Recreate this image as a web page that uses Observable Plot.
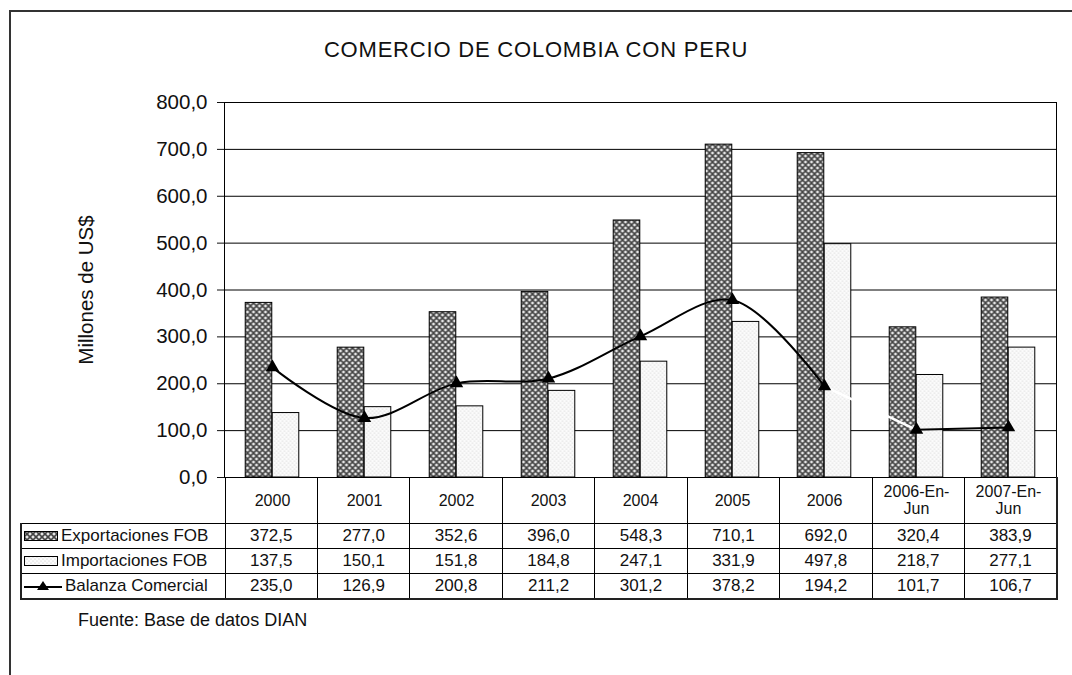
<!DOCTYPE html>
<html>
<head>
<meta charset="utf-8">
<script src="https://cdn.jsdelivr.net/npm/d3@7"></script>
<script src="https://cdn.jsdelivr.net/npm/@observablehq/plot@0.6"></script>
<style>
  body { margin: 0; background: #fff; font-family: "Liberation Sans", Arial, sans-serif; color: #111; }
  #wrap { position: relative; width: 1072px; height: 675px; overflow: hidden; }
  #frameBox { position: absolute; left: 9px; top: 10px; width: 1100px; height: 700px; border-top: 2px solid #333; border-left: 2px solid #333; }
  #title { position: absolute; left: 0; top: 39px; width: 1072px; text-align: center; font-size: 22px; line-height: 22px; letter-spacing: 0.8px; color: #111; }
  #chart { position: absolute; left: 0; top: 0; }
  #tbl { position: absolute; left: 20px; top: 477px; border-collapse: collapse; table-layout: fixed; font-size: 17px; color: #111; }
  #tbl td { border: 1px solid #000; padding: 0; text-align: center; height: 24px; line-height: 20px; white-space: nowrap; background: transparent; }
  #tbl tr.head td { height: 45px; }
  #tbl tr.head td.blank { border: none; }
  #tbl td.leg { text-align: left; padding-left: 2px; border-left: 2px solid #222; }
  #tbl td.last { border-right: 2px solid #222; }
  #tbl tr.bottom td { border-bottom: 2px solid #222; }
  .sw { vertical-align: middle; margin-right: 3px; position: relative; top: -1px; }
  #source { position: absolute; left: 78px; top: 610px; font-size: 18px; line-height: 20px; color: #111; }
</style>
</head>
<body>
<svg width="0" height="0" style="position:absolute">
  <defs>
    <pattern id="patExp" patternUnits="userSpaceOnUse" width="6" height="6">
      <rect width="6" height="6" fill="#7a7a7a"/>
      <path d="M0,0L6,6M6,0L0,6" stroke="#444" stroke-width="1"/>
      <circle cx="3" cy="0" r="1.1" fill="#fff"/>
      <circle cx="3" cy="6" r="1.1" fill="#fff"/>
      <circle cx="0" cy="3" r="1.1" fill="#fff"/>
      <circle cx="6" cy="3" r="1.1" fill="#fff"/>
    </pattern>
    <pattern id="patImp" patternUnits="userSpaceOnUse" width="4" height="4">
      <rect width="4" height="4" fill="#fbfbfb"/>
      <circle cx="1" cy="1" r="0.6" fill="#c4c4c4"/>
      <circle cx="3" cy="3" r="0.6" fill="#c4c4c4"/>
    </pattern>
  </defs>
</svg>
<div id="wrap">
  <div id="frameBox"></div>
  <div id="title">COMERCIO DE COLOMBIA CON PERU</div>
  <div id="chart"></div>
  <table id="tbl"></table>
  <div id="source">Fuente: Base de datos DIAN</div>
</div>
<script>
// ---- data ----
const categories = ["2000", "2001", "2002", "2003", "2004", "2005", "2006", "2006-En-Jun", "2007-En-Jun"];
const categoryLabels = ["2000", "2001", "2002", "2003", "2004", "2005", "2006", "2006-En-\nJun", "2007-En-\nJun"];
const exportaciones = [372.5, 277.0, 352.6, 396.0, 548.3, 710.1, 692.0, 320.4, 383.9];
const importaciones = [137.5, 150.1, 151.8, 184.8, 247.1, 331.9, 497.8, 218.7, 277.1];
const balanza = [235.0, 126.9, 200.8, 211.2, 301.2, 378.2, 194.2, 101.7, 106.7];
const seriesNames = ["Exportaciones FOB", "Importaciones FOB", "Balanza Comercial"];
const yTicks = [0, 100, 200, 300, 400, 500, 600, 700, 800];
const yLabel = "Millones de US$";

// ---- derived ----
const rows = categories.map((c, i) => ({cat: c, exp: exportaciones[i], imp: importaciones[i], bal: balanza[i]}));
const fmt = v => v.toFixed(1).replace(".", ",");
const W = 1072, H = 523, mL = 224, mR = 16, mT = 102, mB = 46;
const band = (W - mL - mR) / categories.length;
const barW = 27;
const inset = (band - barW) / 2;

const chart = Plot.plot({
  width: W, height: H,
  marginLeft: mL, marginRight: mR, marginTop: mT, marginBottom: mB,
  style: {background: "transparent", fontFamily: "Liberation Sans, Arial, sans-serif", color: "#111", overflow: "visible"},
  x: {domain: categories, padding: 0, label: null},
  y: {domain: [0, 800], label: null},
  marks: [
    Plot.gridY(yTicks, {stroke: "#000", strokeOpacity: 1, strokeWidth: 1}),
    Plot.barY(rows, {x: "cat", y: "exp", fill: "url(#patExp)", stroke: "#000", strokeWidth: 1, insetLeft: inset, insetRight: inset, dx: -barW / 2}),
    Plot.barY(rows, {x: "cat", y: "imp", fill: "url(#patImp)", stroke: "#000", strokeWidth: 1, insetLeft: inset, insetRight: inset, dx: barW / 2}),
    Plot.line(rows.slice(6, 8), {x: "cat", y: "bal", stroke: "#fff", strokeWidth: 2.5}),
    Plot.line(rows.slice(0, 7), {x: "cat", y: "bal", stroke: "#000", strokeWidth: 2, curve: "catmull-rom"}),
    Plot.line(rows.slice(7), {x: "cat", y: "bal", stroke: "#000", strokeWidth: 2, curve: "catmull-rom"}),
    Plot.dot(rows, {x: "cat", y: "bal", symbol: "triangle", r: 5, fill: "#000"}),
    Plot.frame({stroke: "#000"}),
    Plot.axisY(yTicks, {tickFormat: fmt, tickSize: 7, tickPadding: 10, fontSize: 20.5, label: yLabel, labelAnchor: "center", labelOffset: 146, labelArrow: false}),
    Plot.axisX({label: null, tickSize: 0, tickPadding: 23, lineAnchor: "middle", lineHeight: 1.05, fontSize: 16, tickFormat: d => categoryLabels[categories.indexOf(d)]})
  ]
});
document.getElementById("chart").appendChild(chart);

// ---- data table ----
const tbl = document.getElementById("tbl");
let html = `<colgroup><col style="width:${mL - 20}px">` + categories.map(() => `<col style="width:${band}px">`).join("") + `</colgroup>`;
html += `<tr class="head"><td class="blank"></td>` + categories.map((c, i) => `<td class="${i === categories.length - 1 ? "last" : ""}"></td>`).join("") + `</tr>`;
const swatches = [
  `<svg class="sw" width="34" height="10"><rect x="0.5" y="0.5" width="33" height="9" fill="url(#patExp)" stroke="#000"/></svg>`,
  `<svg class="sw" width="34" height="10"><rect x="0.5" y="0.5" width="33" height="9" fill="url(#patImp)" stroke="#000"/></svg>`,
  `<svg class="sw" width="38" height="12"><line x1="0" y1="7" x2="38" y2="7" stroke="#000" stroke-width="2"/><path d="M19,1L25,10L13,10Z" fill="#000"/></svg>`
];
const seriesVals = [exportaciones, importaciones, balanza];
seriesNames.forEach((name, s) => {
  html += `<tr class="${s === 2 ? "bottom" : ""}"><td class="leg">${swatches[s]}${name}</td>` +
    seriesVals[s].map((v, i) => `<td class="${i === categories.length - 1 ? "last" : ""}">${fmt(v)}</td>`).join("") + `</tr>`;
});
tbl.innerHTML = html;
</script>
</body>
</html>
